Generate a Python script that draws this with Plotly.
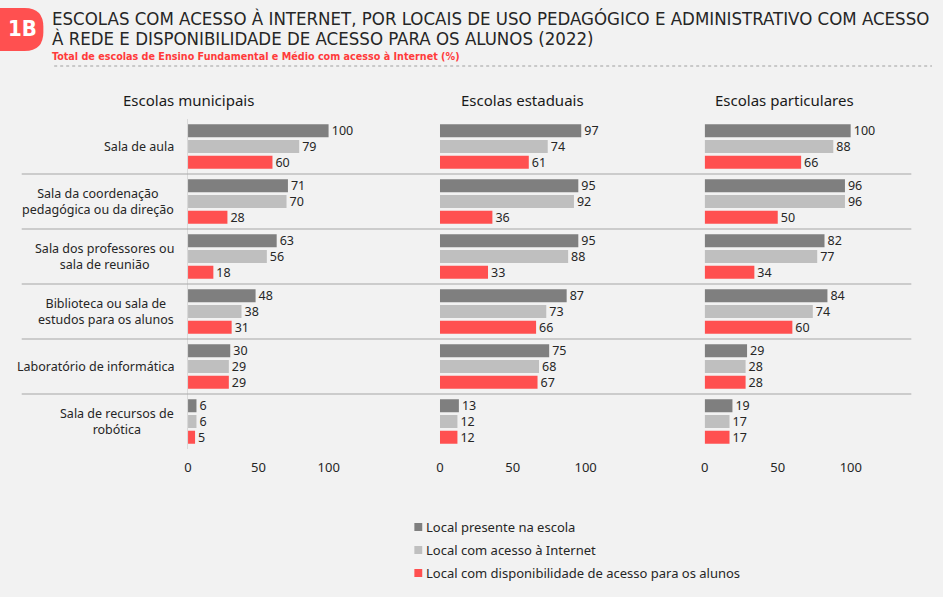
import plotly.graph_objects as go

categories = [
    "Sala de aula",
    "Sala da coordenação<br>pedagógica ou da direção",
    "Sala dos professores ou<br>sala de reunião",
    "Biblioteca ou sala de<br>estudos para os alunos",
    "Laboratório de informática",
    "Sala de recursos de<br>robótica",
]
panels = ["Escolas municipais", "Escolas estaduais", "Escolas particulares"]
series_names = [
    "Local presente na escola",
    "Local com acesso à Internet",
    "Local com disponibilidade de acesso para os alunos",
]
municipais_presente = [100, 71, 63, 48, 30, 6]
municipais_internet = [79, 70, 56, 38, 29, 6]
municipais_alunos = [60, 28, 18, 31, 29, 5]
estaduais_presente = [97, 95, 95, 87, 75, 13]
estaduais_internet = [74, 92, 88, 73, 68, 12]
estaduais_alunos = [61, 36, 33, 66, 67, 12]
particulares_presente = [100, 96, 82, 84, 29, 19]
particulares_internet = [88, 96, 77, 74, 28, 17]
particulares_alunos = [66, 50, 34, 60, 28, 17]
tick_values = [0, 50, 100]
tick_labels = ["0", "50", "100"]

panel_data = [
    [municipais_presente, municipais_internet, municipais_alunos],
    [estaduais_presente, estaduais_internet, estaduais_alunos],
    [particulares_presente, particulares_internet, particulares_alunos],
]
colors = ["#7f7f7f", "#bfbfbf", "#ff5050"]

W, H = 943, 597
FONT = "Noto Sans, Open Sans, sans-serif"
TXT = "#262626"
TITLE_FONT = "Liberation Sans Narrow, DejaVu Sans Condensed, Roboto Condensed, Roboto, sans-serif"

def px(x):
    return x / W

def py(y):
    return 1 - y / H

fig = go.Figure()
axis_names = ["x", "x2", "x3"]
for p, vals in enumerate(panel_data):
    for s, v in enumerate(vals):
        fig.add_trace(go.Bar(
            y=categories, x=v, orientation="h",
            name=series_names[s], legendgroup=series_names[s],
            showlegend=False,
            marker=dict(color=colors[s], line=dict(width=0)),
            text=[str(t) for t in v], textposition="outside",
            textfont=dict(size=12.5, color=TXT, family=FONT),
            constraintext="none", cliponaxis=False,
            xaxis=axis_names[p], yaxis="y",
            hoverinfo="x+name",
        ))

domains = [(187, 330), (443, 591), (712, 860.5)]
xcommon = dict(range=[0, 100], tickvals=tick_values, ticktext=tick_labels,
               showgrid=False, zeroline=False, showline=False, ticks="",
               tickfont=dict(size=13, color=TXT, family=FONT),
               ticklabelstandoff=9, anchor="y", fixedrange=True)
layout_axes = {}
for i, (a, b) in enumerate(domains):
    key = "xaxis" if i == 0 else f"xaxis{i+1}"
    layout_axes[key] = dict(domain=[px(a), px(b)], **xcommon)

fig.update_layout(
    **layout_axes,
    yaxis=dict(domain=[py(449), py(119)], range=[len(categories) - 0.5, -0.5],
               showticklabels=False, showgrid=False, zeroline=False,
               showline=True, linecolor="#d9d9d9", linewidth=1, ticks="",
               anchor="x", fixedrange=True),
    barmode="group", bargap=0.14, bargroupgap=0.18,
    width=W, height=H, margin=dict(l=0, r=0, t=0, b=0),
    paper_bgcolor="#f2f2f2", plot_bgcolor="rgba(0,0,0,0)",
    font=dict(family=FONT, color=TXT, size=13),
    showlegend=False,
)

# category labels
for c in categories:
    fig.add_annotation(x=px(175), xref="paper", y=c, yref="y", text=c,
                       xanchor="right", yanchor="middle", align="center",
                       showarrow=False, font=dict(size=12.5, color=TXT, family=FONT))

# separators between categories
for i in range(len(categories) - 1):
    fig.add_shape(type="line", xref="paper", yref="y", x0=px(18), x1=px(922),
                  y0=i + 0.5, y1=i + 0.5, line=dict(color="#a6a6a6", width=1))

# panel titles
for t, xc in zip(panels, [187, 527, 793]):
    fig.add_annotation(x=px(xc), xref="paper", y=py(100), yref="paper", text=t,
                       xanchor="center", yanchor="middle", showarrow=False,
                       font=dict(size=15, color="#1a1a1a", family=FONT))

# legend (drawn manually to match compact symbol/text spacing)
for s, name in enumerate(series_names):
    yc = 527 + s * 23
    fig.add_shape(type="rect", xref="paper", yref="paper",
                  x0=px(417), x1=px(425), y0=py(yc + 4), y1=py(yc - 4),
                  fillcolor=colors[s], line=dict(width=0))
    fig.add_annotation(x=px(427), xref="paper", y=py(yc), yref="paper", text=name,
                       xanchor="left", yanchor="middle", showarrow=False,
                       font=dict(size=13, color=TXT, family=FONT))

# header badge (pill with rounded right end)
x0b, x1b, y0b, y1b, r = -20, 40, 8, 51, 19
path = (f"M {px(x0b)},{py(y0b)} L {px(x1b - r)},{py(y0b)} "
        f"Q {px(x1b)},{py(y0b)} {px(x1b)},{py(y0b + r)} "
        f"L {px(x1b)},{py(y1b - r)} "
        f"Q {px(x1b)},{py(y1b)} {px(x1b - r)},{py(y1b)} "
        f"L {px(x0b)},{py(y1b)} Z")
fig.add_shape(type="path", xref="paper", yref="paper", path=path,
              fillcolor="#ff5050", line=dict(width=0))
fig.add_annotation(x=px(19), xref="paper", y=py(29), yref="paper", text="<b>1B</b>",
                   xanchor="center", yanchor="middle", showarrow=False,
                   font=dict(size=22, color="white", family=TITLE_FONT))

fig.add_annotation(x=px(47), xref="paper", y=py(18), yref="paper",
                   text="ESCOLAS COM ACESSO À INTERNET, POR LOCAIS DE USO PEDAGÓGICO E ADMINISTRATIVO COM ACESSO",
                   xanchor="left", yanchor="middle", showarrow=False,
                   font=dict(size=18.5, color="#262626", family=TITLE_FONT))
fig.add_annotation(x=px(47), xref="paper", y=py(39), yref="paper",
                   text="À REDE E DISPONIBILIDADE DE ACESSO PARA OS ALUNOS (2022)",
                   xanchor="left", yanchor="middle", showarrow=False,
                   font=dict(size=18.5, color="#262626", family=TITLE_FONT))
fig.add_annotation(x=px(47), xref="paper", y=py(56), yref="paper",
                   text="<b>Total de escolas de Ensino Fundamental e Médio com acesso à Internet (%)</b>",
                   xanchor="left", yanchor="middle", showarrow=False,
                   font=dict(size=10.7, color="#ff3b3b", family=TITLE_FONT))
fig.add_shape(type="line", xref="paper", yref="paper", x0=px(51), x1=px(943),
              y0=py(66), y1=py(66), line=dict(color="#a0a0a0", width=1, dash="dot"))

fig.write_html("out.html")
